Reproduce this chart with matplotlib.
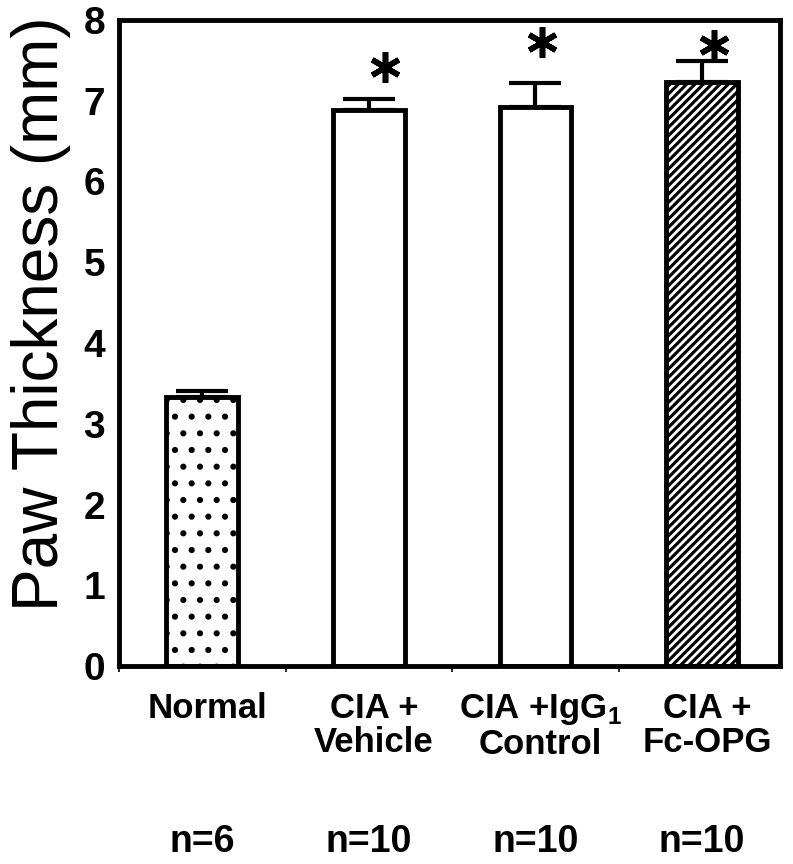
import numpy as np
import matplotlib
matplotlib.use("Agg")
import matplotlib.pyplot as plt
from matplotlib.transforms import blended_transform_factory

# data
groups = ["Normal", "CIA +\nVehicle", "CIA +IgG$_\\mathbf{1}$\nControl", "CIA +\nFc-OPG"]
n_labels = ["n=6", "n=10", "n=10", "n=10"]
thickness = [3.33, 6.89, 6.92, 7.23]
sem = [0.07, 0.13, 0.30, 0.26]
# asterisk (significance) marks: which bars, and where they sit
significant = [False, True, True, True]
star_y = [0, 7.42, 7.73, 7.69]
star_dx = [0, 0.10, 0.04, 0.07]

plt.rcParams["font.family"] = ["Liberation Sans", "DejaVu Sans"]
plt.rcParams["mathtext.fontset"] = "custom"
plt.rcParams["mathtext.rm"] = "Liberation Sans"
plt.rcParams["mathtext.bf"] = "Liberation Sans:bold"
plt.rcParams["hatch.linewidth"] = 2.0

fig = plt.figure(figsize=(7.93, 8.64), dpi=100)
ax = fig.add_axes([0.150, 0.229, 0.834, 0.748])

x = np.arange(len(groups))
w = 0.43
lw = 3.5

# Normal: dotted fill
ax.bar(x[0], thickness[0], w, color="white", edgecolor="black", hatch=".", linewidth=0, zorder=2)
# Fc-OPG: black with white diagonal lines
ax.bar(x[3], thickness[3], w, color="black", edgecolor="white", hatch="////", linewidth=0, zorder=2)
# outlines for all bars
ax.bar(x, thickness, w, fill=False, edgecolor="black", linewidth=lw, zorder=3)
ax.errorbar(x, thickness, yerr=[np.zeros(len(sem)), sem], fmt="none", ecolor="black",
            elinewidth=3, capsize=19, capthick=3, zorder=1)

for xi, s, sy, dx in zip(x, significant, star_y, star_dx):
    if s:
        ax.plot(xi + dx, sy, marker=(6, 2, 0), markersize=22, markeredgewidth=4,
                color="black", clip_on=False, zorder=4)

ax.set_xlim(-0.49, 3.47)
ax.set_ylim(0, 8)
ax.set_yticks(range(0, 9))
ax.set_yticklabels([str(i) for i in range(0, 9)], fontsize=28, fontweight="bold")
ax.tick_params(axis="y", length=0, pad=10)
ax.set_xticks(x)
ax.set_xticklabels([])
ax.tick_params(axis="x", length=0)
ax.set_xticks(np.arange(-0.5, 3.5, 1.0), minor=True)
ax.tick_params(axis="x", which="minor", length=4, width=1.2, direction="out")
for sp in ax.spines.values():
    sp.set_linewidth(3.5)

ax.set_ylabel("Paw Thickness (mm)", fontsize=46)
ax.yaxis.set_label_coords(-0.072, 0.545)

tr = blended_transform_factory(ax.transData, fig.transFigure)
for xi, g, nl in zip(x, groups, n_labels):
    ax.text(xi + 0.03, 1 - 692 / 864, g, transform=tr, ha="center", va="top",
            fontsize=25, fontweight="bold", linespacing=1.05)
    ax.text(xi + 0.0, 1 - 842 / 864, nl, transform=tr, ha="center", va="center",
            fontsize=27, fontweight="bold")

fig.savefig("out.png", dpi=100)
